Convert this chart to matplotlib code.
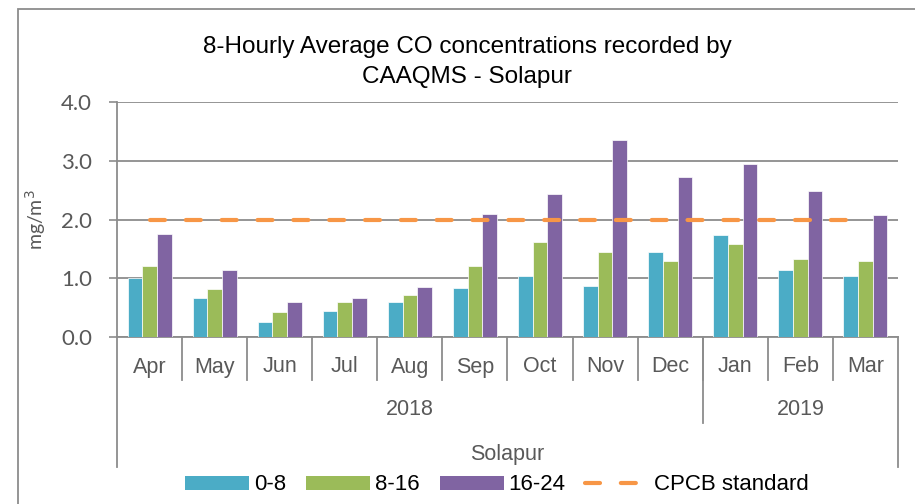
import numpy as np
import matplotlib
matplotlib.use("Agg")
import matplotlib.pyplot as plt
import matplotlib.transforms as mtransforms
from matplotlib.patches import Rectangle, Patch
from matplotlib.lines import Line2D

# data
months = ['Apr', 'May', 'Jun', 'Jul', 'Aug', 'Sep', 'Oct', 'Nov', 'Dec', 'Jan', 'Feb', 'Mar']
years = ['2018', '2019']
year_spans = [(0, 9), (9, 12)]
site = 'Solapur'
co_0_8 = [1.00, 0.67, 0.25, 0.45, 0.60, 0.83, 1.04, 0.86, 1.45, 1.73, 1.14, 1.04]
co_8_16 = [1.21, 0.82, 0.42, 0.60, 0.71, 1.21, 1.61, 1.44, 1.29, 1.58, 1.33, 1.29]
co_16_24 = [1.75, 1.14, 0.60, 0.67, 0.85, 2.09, 2.44, 3.35, 2.73, 2.94, 2.49, 2.08]
cpcb_standard = 2.0
series_labels = ['0-8', '8-16', '16-24']

colors = ['#4BACC6', '#9BBB59', '#8064A2']
orange = '#F79646'
grid_gray = '#8C8C8C'
label_gray = '#595959'

narrow = ['Liberation Sans Narrow', 'Liberation Sans', 'DejaVu Sans']
num_font = ['Lato', 'DejaVu Sans']

fig = plt.figure(figsize=(9.15, 5.04), dpi=100)
ax = fig.add_axes([117 / 915, 1 - 337 / 504, (898 - 117) / 915, (337 - 102) / 504])

x = np.arange(len(months)) + 0.5
w = 0.225
for i, vals in enumerate([co_0_8, co_8_16, co_16_24]):
    ax.bar(x + (i - 1) * w, vals, width=w, color=colors[i], edgecolor='white',
           linewidth=0.5, zorder=3)

ax.plot(x, [cpcb_standard] * len(x), color=orange, lw=3, dashes=(3.6, 5.0),
        dash_capstyle='round', zorder=4)

ax.set_xlim(0, len(months))
ax.set_ylim(0, 4)
ax.set_yticks([0, 1, 2, 3, 4])
ax.set_yticklabels(['%.1f' % v for v in [0, 1, 2, 3, 4]], fontfamily=num_font,
                   fontsize=16, color=label_gray)
ax.tick_params(axis='y', length=6, width=1.2, color=grid_gray, pad=12)
ax.set_xticks([])
ax.grid(axis='y', color=grid_gray, lw=1.3, zorder=0)
for s in ['top', 'right']:
    ax.spines[s].set_visible(False)
for s in ['left', 'bottom']:
    ax.spines[s].set_color(grid_gray)
    ax.spines[s].set_linewidth(1.3)
ax.set_ylabel('mg/m$^3$', fontfamily=num_font, fontsize=14, color=label_gray)
ax.yaxis.set_label_coords(-0.088, 0.5)

# multi-level category axis
trans = mtransforms.blended_transform_factory(ax.transData, ax.transAxes)
h_px = 337 - 102
def ay(px):
    return -(px - 337) / h_px

for i, m in enumerate(months):
    ax.text(i + 0.5, ay(367), m, transform=trans, ha='center', va='center',
            fontfamily=narrow, fontsize=15.5, color=label_gray)
for b in range(1, len(months)):
    ax.add_line(Line2D([b, b], [0, ay(380)], transform=trans, color=grid_gray,
                       lw=1.3, clip_on=False))
for yr, (a, b) in zip(years, year_spans):
    ax.text((a + b) / 2, ay(410), yr, transform=trans, ha='center', va='center',
            fontfamily=narrow, fontsize=15.5, color=label_gray)
ax.add_line(Line2D([9, 9], [0, ay(423)], transform=trans, color=grid_gray,
                   lw=1.3, clip_on=False))
ax.text(len(months) / 2, ay(455), site, transform=trans, ha='center', va='center',
        fontfamily=narrow, fontsize=15.5, color=label_gray)
for b in [0, len(months)]:
    ax.add_line(Line2D([b, b], [0, ay(467)], transform=trans, color=grid_gray,
                       lw=1.3, clip_on=False))

# title
fig.text(467 / 915, 1 - 62 / 504,
         '8-Hourly Average CO concentrations recorded by\nCAAQMS - Solapur',
         ha='center', va='center', fontfamily=narrow, fontsize=17.5, linespacing=1.45)

# legend
handles = [Patch(facecolor=c) for c in colors]
handles.append(Line2D([], [], color=orange, lw=3, dashes=(3.6, 5.0), dash_capstyle='round'))
fig.legend(handles, series_labels + ['CPCB standard'], loc='center',
           bbox_to_anchor=(497 / 915, 1 - 485 / 504), ncol=4, frameon=False,
           prop={'family': narrow, 'size': 16}, handlelength=2.9, handleheight=0.6,
           handletextpad=0.2, columnspacing=0.9, borderaxespad=0)

# chart area border
fig.add_artist(Rectangle((18 / 915, -0.1), 1.2, 1.1 - 9 / 504,
                         transform=fig.transFigure, fill=False, edgecolor=grid_gray,
                         lw=1.3))

fig.savefig('out.png', dpi=100)
